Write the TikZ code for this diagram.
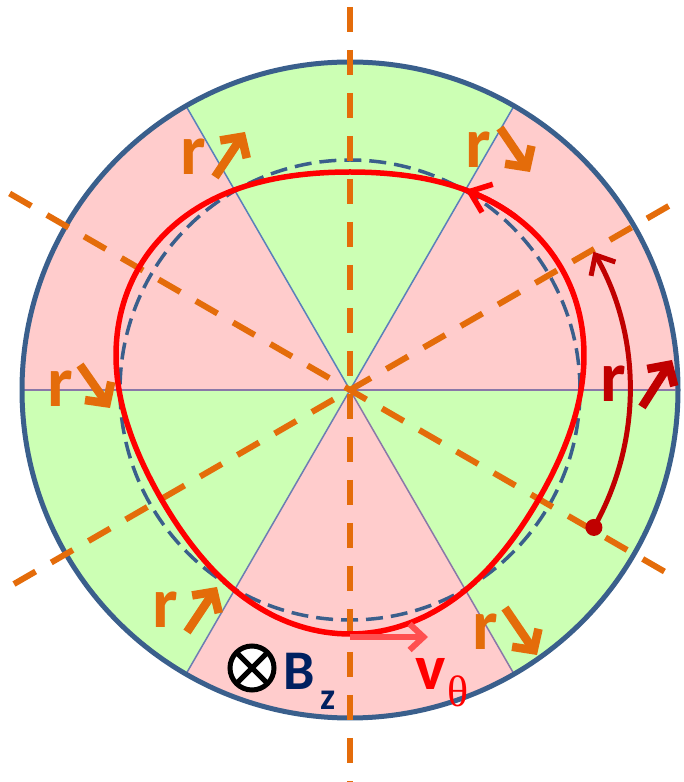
\documentclass[tikz,border=0pt]{standalone}
\usepackage{fontspec}
\setmainfont{Carlito}
\newfontfamily\greekfont{Liberation Serif}
\usetikzlibrary{arrows.meta}
\definecolor{pinkc}{HTML}{FFCCCC}
\definecolor{greenc}{HTML}{CCFFB4}
\definecolor{orangec}{HTML}{E46C0A}
\definecolor{rimc}{HTML}{3A5F8C}
\definecolor{dashc}{HTML}{3A5F8C}
\definecolor{bluel}{HTML}{5A80BA}
\definecolor{purl}{HTML}{8A78A8}
\definecolor{redc}{HTML}{FF0000}
\definecolor{darkredc}{HTML}{C00000}
\definecolor{vredc}{HTML}{FF5050}
\definecolor{navyc}{HTML}{002060}
\tikzset{
  sectorline/.style={line width=1.5pt},
  axisline/.style={draw=orangec, line width=6pt, dash pattern=on 25pt off 18pt},
  rarrow/.style={draw=orangec, line width=8.5pt, line cap=butt, line join=miter,
     -{Straight Barb[length=15pt,width=32pt]}},
  rlab/.style={font=\fontsize{72}{72}\selectfont\bfseries, text=orangec, inner sep=0pt, anchor=base west},
  labtext/.style={inner sep=0pt, anchor=base west},
}
\begin{document}
\begin{tikzpicture}[x=1pt,y=1pt]
\useasboundingbox (0,0) rectangle (684,782);
\coordinate (c) at (350,392);
% sectors
\fill[pinkc] (c) -- ++(0:328) arc[start angle=0,end angle=60,radius=328] -- cycle;
\fill[greenc] (c) -- ++(60:328) arc[start angle=60,end angle=120,radius=328] -- cycle;
\fill[pinkc] (c) -- ++(120:328) arc[start angle=120,end angle=180,radius=328] -- cycle;
\fill[greenc] (c) -- ++(180:328) arc[start angle=180,end angle=240,radius=328] -- cycle;
\fill[pinkc] (c) -- ++(240:328) arc[start angle=240,end angle=300,radius=328] -- cycle;
\fill[greenc] (c) -- ++(300:328) arc[start angle=300,end angle=360,radius=328] -- cycle;
% sector boundaries
\draw[sectorline, purl] (c) -- ++(0:328);
\draw[sectorline, bluel] (c) -- ++(60:328);
\draw[sectorline, bluel] (c) -- ++(120:328);
\draw[sectorline, purl] (c) -- ++(180:328);
\draw[sectorline, bluel!60!purl] (c) -- ++(240:328);
\draw[sectorline, purl] (c) -- ++(300:328);
% outer rim
\draw[rimc, line width=5pt] (c) circle[radius=328];
% dashed reference circle
\draw[dashc, line width=3.5pt, dash pattern=on 17pt off 8pt] (c) circle[radius=230];
% orange dashed axes
\draw[axisline] (350,775) -- (350,0);
\draw[axisline] (c) ++(150:393) -- ++(-30:769);
\draw[axisline] (c) ++(210:388) -- ++(30:771);
% red perturbed orbit
\draw[redc, line width=5.5pt, line join=round]
  plot[domain=0:360,samples=241] ({350+(231+13*sin(3*\x))*cos(\x)},{392+(231+13*sin(3*\x))*sin(\x)}) -- cycle;
\draw[redc, line width=5.5pt, -{Straight Barb[length=19pt,width=30pt]}]
  plot[domain=46:60,samples=15] ({350+(231+13*sin(3*\x))*cos(\x)},{392+(231+13*sin(3*\x))*sin(\x)});
% dark red arc arrow
\fill[darkredc] (c) ++(-29.4:280) circle[radius=8.5];
\draw[darkredc, line width=5pt, -{Straight Barb[length=16pt,width=28pt]}]
  (c) ++(-29.4:280) arc[start angle=-29.4,end angle=29.6,radius=280];
% r labels and arrows
\node[rlab] (rtl) at (180,607) {r};
\coordinate (atl1) at (215,605); \coordinate (atl2) at (245,650);
\draw[rarrow] (atl1) -- (atl2);
\node[rlab] (rtr) at (465,614) {r};
\coordinate (atr1) at (500,654); \coordinate (atr2) at (530,610);
\draw[rarrow] (atr1) -- (atr2);
\node[rlab] (rl) at (47,375) {r};
\coordinate (al1) at (80,417); \coordinate (al2) at (110,374);
\draw[rarrow] (al1) -- (al2);
\node[rlab, text=darkredc] (rr) at (600,380) {r};
\coordinate (ar1) at (642,375); \coordinate (ar2) at (672,422);
\draw[rarrow, draw=darkredc] (ar1) -- (ar2);
\node[rlab] (rbl) at (152,154) {r};
\coordinate (abl1) at (187,150); \coordinate (abl2) at (217,195);
\draw[rarrow] (abl1) -- (abl2);
\node[rlab] (rbr) at (472,132) {r};
\coordinate (abr1) at (505,174); \coordinate (abr2) at (537,127);
\draw[rarrow] (abr1) -- (abr2);
% B_z symbol
\coordinate (bz) at (252,114);
\draw[black, line width=5pt, fill=white] (bz) circle[radius=22];
\draw[black, line width=5pt] (bz) ++(45:22) -- ++(225:44);
\draw[black, line width=5pt] (bz) ++(135:22) -- ++(-45:44);
\node[labtext, font=\fontsize{56}{56}\selectfont\bfseries, text=navyc] (B) at (283,92) {B};
\node[labtext, font=\fontsize{38}{38}\selectfont\bfseries, text=navyc] (z) at (320,72) {z};
% v_theta
\coordinate (v1) at (350,145); \coordinate (v2) at (428,145);
\draw[vredc, line width=6pt, -{Straight Barb[length=14pt,width=26pt]}] (v1) -- (v2);
\node[labtext, font=\fontsize{64}{64}\selectfont\bfseries, text=redc] (v) at (415,92) {v};
\node[labtext, font=\fontsize{44}{44}\selectfont\greekfont, text=redc] (th) at (447,75) {θ};
\end{tikzpicture}
\end{document}
